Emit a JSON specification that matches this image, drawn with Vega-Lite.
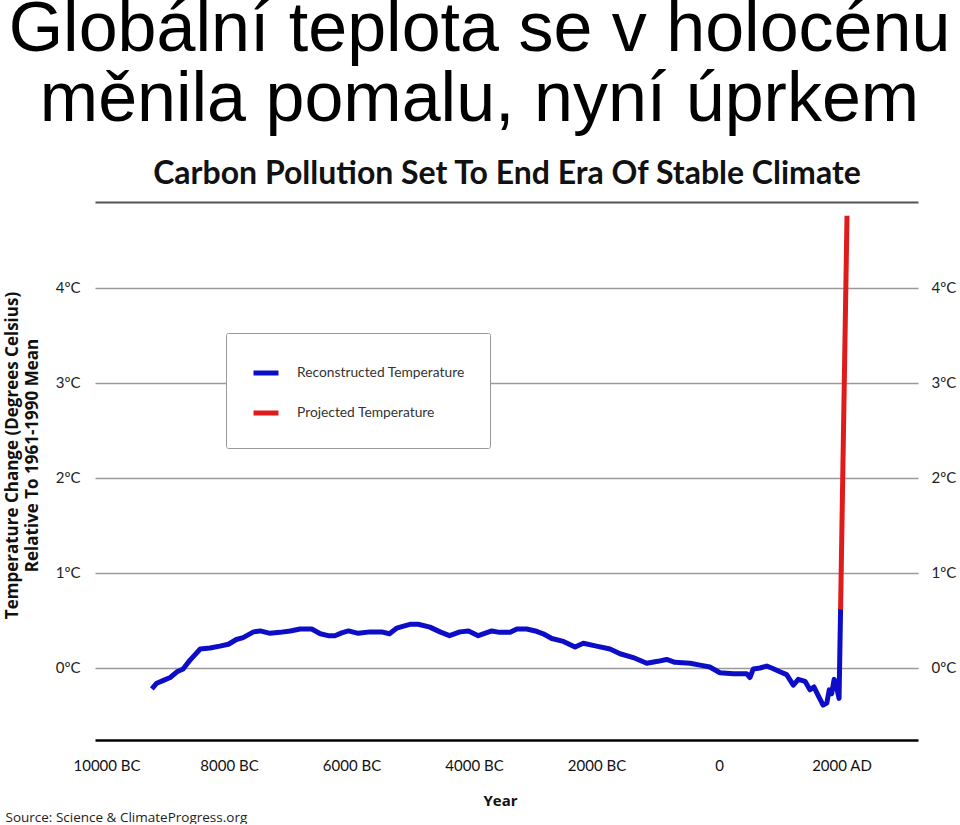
{
  "$schema": "https://vega.github.io/schema/vega-lite/v6.json",
  "width": 823,
  "height": 538,
  "padding": {"left": 3, "top": -5, "right": 3, "bottom": 0},
  "background": "white",
  "config": {"view": {"stroke": null}, "font": "Lato"},
  "title": {
    "text": ["Globální teplota se v holocénu", "měnila pomalu, nyní úprkem"],
    "fontSize": 70,
    "font": "Liberation Sans",
    "fontWeight": "normal",
    "lineHeight": 70,
    "anchor": "middle",
    "frame": "bounds",
    "color": "#000",
    "offset": 21
  },
  "data": {
    "values": [
      {"year": -9260, "temp": -0.22, "series": "Reconstructed Temperature"},
      {"year": -9180, "temp": -0.16, "series": "Reconstructed Temperature"},
      {"year": -9070, "temp": -0.13, "series": "Reconstructed Temperature"},
      {"year": -8960, "temp": -0.10, "series": "Reconstructed Temperature"},
      {"year": -8850, "temp": -0.04, "series": "Reconstructed Temperature"},
      {"year": -8750, "temp": -0.01, "series": "Reconstructed Temperature"},
      {"year": -8640, "temp": 0.08, "series": "Reconstructed Temperature"},
      {"year": -8470, "temp": 0.20, "series": "Reconstructed Temperature"},
      {"year": -8310, "temp": 0.21, "series": "Reconstructed Temperature"},
      {"year": -8150, "temp": 0.23, "series": "Reconstructed Temperature"},
      {"year": -8010, "temp": 0.25, "series": "Reconstructed Temperature"},
      {"year": -7880, "temp": 0.30, "series": "Reconstructed Temperature"},
      {"year": -7770, "temp": 0.32, "series": "Reconstructed Temperature"},
      {"year": -7600, "temp": 0.38, "series": "Reconstructed Temperature"},
      {"year": -7490, "temp": 0.39, "series": "Reconstructed Temperature"},
      {"year": -7330, "temp": 0.365, "series": "Reconstructed Temperature"},
      {"year": -7170, "temp": 0.375, "series": "Reconstructed Temperature"},
      {"year": -7000, "temp": 0.39, "series": "Reconstructed Temperature"},
      {"year": -6840, "temp": 0.41, "series": "Reconstructed Temperature"},
      {"year": -6650, "temp": 0.41, "series": "Reconstructed Temperature"},
      {"year": -6510, "temp": 0.36, "series": "Reconstructed Temperature"},
      {"year": -6380, "temp": 0.34, "series": "Reconstructed Temperature"},
      {"year": -6270, "temp": 0.34, "series": "Reconstructed Temperature"},
      {"year": -6160, "temp": 0.37, "series": "Reconstructed Temperature"},
      {"year": -6050, "temp": 0.39, "series": "Reconstructed Temperature"},
      {"year": -5890, "temp": 0.365, "series": "Reconstructed Temperature"},
      {"year": -5700, "temp": 0.38, "series": "Reconstructed Temperature"},
      {"year": -5510, "temp": 0.38, "series": "Reconstructed Temperature"},
      {"year": -5380, "temp": 0.36, "series": "Reconstructed Temperature"},
      {"year": -5260, "temp": 0.42, "series": "Reconstructed Temperature"},
      {"year": -5150, "temp": 0.44, "series": "Reconstructed Temperature"},
      {"year": -5045, "temp": 0.46, "series": "Reconstructed Temperature"},
      {"year": -4910, "temp": 0.46, "series": "Reconstructed Temperature"},
      {"year": -4720, "temp": 0.43, "series": "Reconstructed Temperature"},
      {"year": -4555, "temp": 0.38, "series": "Reconstructed Temperature"},
      {"year": -4400, "temp": 0.34, "series": "Reconstructed Temperature"},
      {"year": -4230, "temp": 0.38, "series": "Reconstructed Temperature"},
      {"year": -4090, "temp": 0.39, "series": "Reconstructed Temperature"},
      {"year": -3930, "temp": 0.34, "series": "Reconstructed Temperature"},
      {"year": -3710, "temp": 0.39, "series": "Reconstructed Temperature"},
      {"year": -3580, "temp": 0.375, "series": "Reconstructed Temperature"},
      {"year": -3410, "temp": 0.375, "series": "Reconstructed Temperature"},
      {"year": -3300, "temp": 0.41, "series": "Reconstructed Temperature"},
      {"year": -3140, "temp": 0.41, "series": "Reconstructed Temperature"},
      {"year": -3000, "temp": 0.39, "series": "Reconstructed Temperature"},
      {"year": -2870, "temp": 0.36, "series": "Reconstructed Temperature"},
      {"year": -2730, "temp": 0.31, "series": "Reconstructed Temperature"},
      {"year": -2540, "temp": 0.28, "series": "Reconstructed Temperature"},
      {"year": -2350, "temp": 0.22, "series": "Reconstructed Temperature"},
      {"year": -2215, "temp": 0.26, "series": "Reconstructed Temperature"},
      {"year": -2000, "temp": 0.23, "series": "Reconstructed Temperature"},
      {"year": -1780, "temp": 0.20, "series": "Reconstructed Temperature"},
      {"year": -1615, "temp": 0.15, "series": "Reconstructed Temperature"},
      {"year": -1400, "temp": 0.11, "series": "Reconstructed Temperature"},
      {"year": -1180, "temp": 0.05, "series": "Reconstructed Temperature"},
      {"year": -1000, "temp": 0.07, "series": "Reconstructed Temperature"},
      {"year": -855, "temp": 0.09, "series": "Reconstructed Temperature"},
      {"year": -720, "temp": 0.06, "series": "Reconstructed Temperature"},
      {"year": -470, "temp": 0.05, "series": "Reconstructed Temperature"},
      {"year": -310, "temp": 0.03, "series": "Reconstructed Temperature"},
      {"year": -150, "temp": 0.01, "series": "Reconstructed Temperature"},
      {"year": 15, "temp": -0.05, "series": "Reconstructed Temperature"},
      {"year": 235, "temp": -0.06, "series": "Reconstructed Temperature"},
      {"year": 450, "temp": -0.06, "series": "Reconstructed Temperature"},
      {"year": 505, "temp": -0.10, "series": "Reconstructed Temperature"},
      {"year": 560, "temp": -0.01, "series": "Reconstructed Temperature"},
      {"year": 670, "temp": 0.00, "series": "Reconstructed Temperature"},
      {"year": 780, "temp": 0.02, "series": "Reconstructed Temperature"},
      {"year": 860, "temp": 0.00, "series": "Reconstructed Temperature"},
      {"year": 995, "temp": -0.04, "series": "Reconstructed Temperature"},
      {"year": 1105, "temp": -0.07, "series": "Reconstructed Temperature"},
      {"year": 1213, "temp": -0.18, "series": "Reconstructed Temperature"},
      {"year": 1295, "temp": -0.12, "series": "Reconstructed Temperature"},
      {"year": 1405, "temp": -0.14, "series": "Reconstructed Temperature"},
      {"year": 1485, "temp": -0.23, "series": "Reconstructed Temperature"},
      {"year": 1550, "temp": -0.20, "series": "Reconstructed Temperature"},
      {"year": 1620, "temp": -0.29, "series": "Reconstructed Temperature"},
      {"year": 1700, "temp": -0.39, "series": "Reconstructed Temperature"},
      {"year": 1760, "temp": -0.37, "series": "Reconstructed Temperature"},
      {"year": 1800, "temp": -0.23, "series": "Reconstructed Temperature"},
      {"year": 1840, "temp": -0.27, "series": "Reconstructed Temperature"},
      {"year": 1880, "temp": -0.12, "series": "Reconstructed Temperature"},
      {"year": 1920, "temp": -0.20, "series": "Reconstructed Temperature"},
      {"year": 1960, "temp": -0.32, "series": "Reconstructed Temperature"},
      {"year": 1985, "temp": 0.62, "series": "Reconstructed Temperature"},
      {"year": 1985, "temp": 0.62, "series": "Projected Temperature"},
      {"year": 2090, "temp": 4.76, "series": "Projected Temperature"}
    ]
  },
  "layer": [
    {
      "mark": {"type": "line", "strokeWidth": 5, "strokeJoin": "round", "strokeCap": "butt"},
      "encoding": {
        "x": {
          "field": "year", "type": "quantitative",
          "scale": {"domain": [-10188, 3249], "nice": false, "zero": false},
          "axis": {
            "orient": "bottom",
            "values": [-10000, -8000, -6000, -4000, -2000, 0, 2000],
            "labelExpr": "datum.value < 0 ? (-datum.value) + ' BC' : (datum.value == 0 ? '0' : datum.value + ' AD')",
            "grid": false,
            "domainColor": "#000",
            "domainWidth": 2.5,
            "ticks": false,
            "tickSize": 0,
            "labelPadding": 18,
            "labelFont": "Lato",
            "labelFontSize": 15,
            "labelColor": "#111",
            "labelFlush": false,
            "title": "Year",
            "titleFont": "Open Sans",
            "titleFontWeight": "bold",
            "titleFontSize": 15,
            "titleColor": "#111",
            "titlePadding": 20,
            "titleX": 405
          }
        },
        "y": {
          "field": "temp", "type": "quantitative",
          "scale": {"domain": [-0.758, 4.905], "nice": false, "zero": false},
          "axis": {
            "orient": "left",
            "values": [0, 1, 2, 3, 4],
            "labelExpr": "datum.value + 'ºC'",
            "grid": true,
            "gridColor": "#9a9a9a",
            "gridWidth": 1.5,
            "domain": false,
            "ticks": false,
            "tickSize": 0,
            "labelPadding": 15,
            "labelFont": "Lato",
            "labelFontSize": 15,
            "labelColor": "#222",
            "title": ["Temperature Change (Degrees Celsius)", "Relative To 1961-1990 Mean"],
            "titleFont": "Open Sans",
            "titleFontWeight": "bold",
            "titleFontSize": 17,
            "titleColor": "#111",
            "titleLineHeight": 20,
            "titlePadding": 14,
            "titleY": 253
          }
        },
        "color": {
          "field": "series", "type": "nominal",
          "scale": {"domain": ["Reconstructed Temperature", "Projected Temperature"], "range": ["#0d0dc8", "#e01b1b"]},
          "legend": {
            "orient": "none",
            "legendX": 131,
            "legendY": 131,
            "title": null,
            "symbolType": "stroke",
            "symbolStrokeWidth": 5,
            "symbolSize": 625,
            "labelFont": "Lato",
            "labelFontSize": 13.8,
            "labelColor": "#333",
            "labelOffset": 16,
            "labelLimit": 300,
            "rowPadding": 15,
            "padding": 25,
            "strokeColor": "#999",
            "fillColor": "white",
            "cornerRadius": 2
          }
        }
      }
    },
    {
      "mark": {"type": "line", "opacity": 0},
      "encoding": {
        "x": {
          "field": "year", "type": "quantitative",
          "axis": {
            "orient": "top",
            "labels": false,
            "ticks": false,
            "grid": false,
            "domain": true,
            "domainColor": "#555",
            "domainWidth": 2,
            "title": "Carbon Pollution Set To End Era Of Stable Climate",
            "titleFont": "Lato",
            "titleFontWeight": "bold",
            "titleFontSize": 32,
            "titleColor": "#111",
            "titlePadding": 12
          }
        },
        "y": {
          "field": "temp", "type": "quantitative",
          "axis": {
            "orient": "right",
            "values": [0, 1, 2, 3, 4],
            "labelExpr": "datum.value + 'ºC'",
            "grid": false,
            "domain": false,
            "ticks": false,
            "tickSize": 0,
            "labelPadding": 13,
            "labelFont": "Lato",
            "labelFontSize": 15,
            "labelColor": "#222",
            "title": null
          }
        },
        "detail": {"field": "series"}
      }
    },
    {
      "mark": {"type": "line", "opacity": 0},
      "encoding": {
        "x": {
          "field": "year", "type": "quantitative",
          "axis": {
            "orient": "bottom",
            "labels": false,
            "ticks": false,
            "grid": false,
            "domain": false,
            "title": "Source: Science & ClimateProgress.org",
            "titleFont": "Open Sans",
            "titleFontWeight": "normal",
            "titleFontSize": 13.5,
            "titleColor": "#222",
            "titleAnchor": "start",
            "titleAlign": "left",
            "titleBaseline": "alphabetic",
            "titleX": -90,
            "titleY": 81
          }
        },
        "y": {"field": "temp", "type": "quantitative", "axis": null},
        "detail": {"field": "series"}
      }
    }
  ],
  "resolve": {"axis": {"x": "independent", "y": "independent"}}
}
